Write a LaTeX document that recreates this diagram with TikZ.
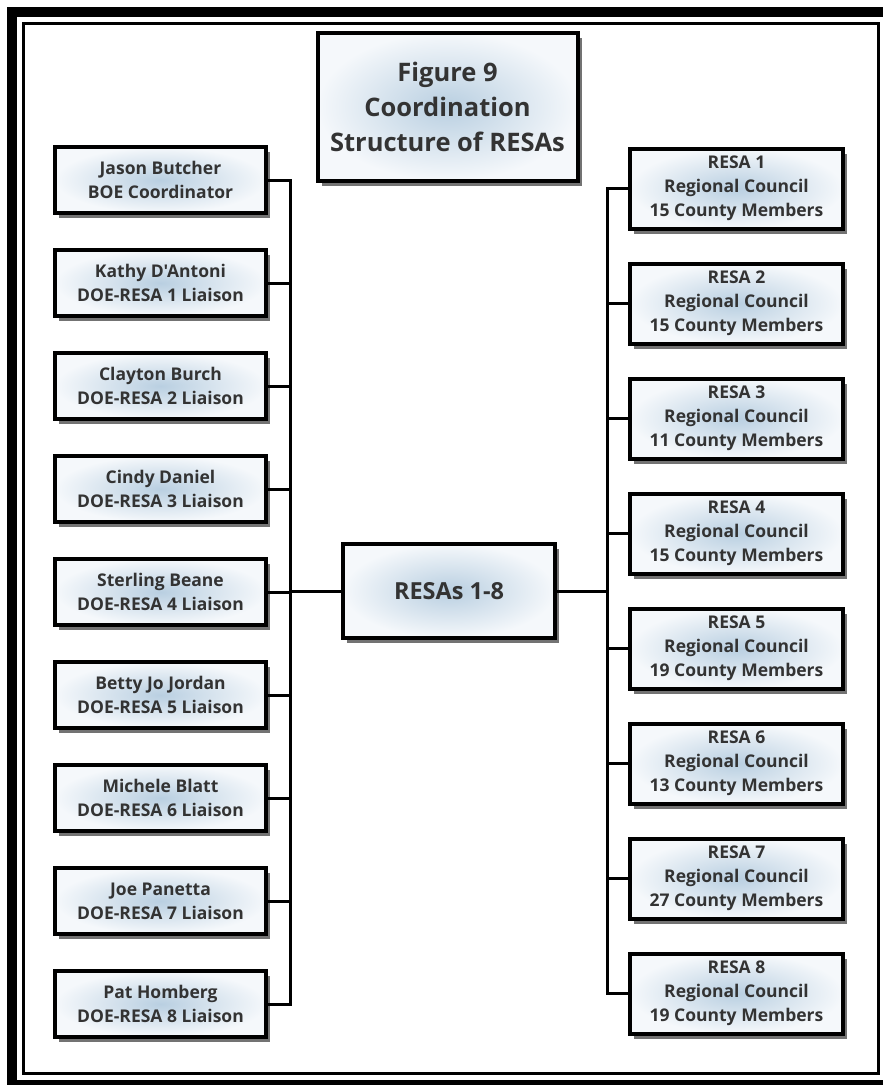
\documentclass[tikz,border=0pt]{standalone}
\usepackage{fontspec}
\setmainfont{Open Sans}[Ligatures=TeXOff]
\usetikzlibrary{shadows}
\definecolor{txt}{HTML}{333333}
\definecolor{inner}{HTML}{B9CFE1}
\definecolor{outer}{HTML}{F5F8FB}
\begin{document}
\begin{tikzpicture}[x=1pt,y=-1pt,
  box/.style={draw=black, line width=4pt, shading=radial, inner color=inner, outer color=outer,
    drop shadow={shadow xshift=4pt, shadow yshift=-5pt, fill=black, opacity=0.55},
    align=center, text=txt, font=\fontsize{17.5}{24}\selectfont\bfseries, inner sep=0pt},
  lbox/.style={box, minimum width=211pt, minimum height=66pt},
  rbox/.style={box, minimum width=213pt, minimum height=80pt},
  conn/.style={line width=3pt, line cap=rect}]
\useasboundingbox (0,0) rectangle (883,1085);
% frame
\draw[line width=10pt] (12,12) rectangle (891,1085);
\draw[line width=3pt] (23,23) rectangle (878,1073.5);
% title
\node[box, minimum width=260pt, minimum height=148pt, font=\fontsize{25.5}{35}\selectfont\bfseries] (title) at (447.5,106.5) {Figure 9\\Coordination\\Structure of RESAs};
% center
\node[box, minimum width=212pt, minimum height=94pt, font=\fontsize{23.5}{28}\selectfont\bfseries] (C) at (449,591) {RESAs 1-8};
% left boxes
\node[lbox] (L1) at (160.5,180) {Jason Butcher\\BOE Coordinator};
\node[lbox] (L2) at (160.5,283) {Kathy D'Antoni\\DOE-RESA 1 Liaison};
\node[lbox] (L3) at (160.5,386) {Clayton Burch\\DOE-RESA 2 Liaison};
\node[lbox] (L4) at (160.5,489) {Cindy Daniel\\DOE-RESA 3 Liaison};
\node[lbox] (L5) at (160.5,592) {Sterling Beane\\DOE-RESA 4 Liaison};
\node[lbox] (L6) at (160.5,695) {Betty Jo Jordan\\DOE-RESA 5 Liaison};
\node[lbox] (L7) at (160.5,798) {Michele Blatt\\DOE-RESA 6 Liaison};
\node[lbox] (L8) at (160.5,901) {Joe Panetta\\DOE-RESA 7 Liaison};
\node[lbox] (L9) at (160.5,1004) {Pat Homberg\\DOE-RESA 8 Liaison};
% right boxes
\node[rbox] (R1) at (736.5,188.5) {RESA 1\\Regional Council\\15 County Members};
\node[rbox] (R2) at (736.5,303.5) {RESA 2\\Regional Council\\15 County Members};
\node[rbox] (R3) at (736.5,418.5) {RESA 3\\Regional Council\\11 County Members};
\node[rbox] (R4) at (736.5,533.5) {RESA 4\\Regional Council\\15 County Members};
\node[rbox] (R5) at (736.5,648.5) {RESA 5\\Regional Council\\19 County Members};
\node[rbox] (R6) at (736.5,763.5) {RESA 6\\Regional Council\\13 County Members};
\node[rbox] (R7) at (736.5,878.5) {RESA 7\\Regional Council\\27 County Members};
\node[rbox] (R8) at (736.5,993.5) {RESA 8\\Regional Council\\19 County Members};
% buses
\coordinate (lt) at (290,180);
\coordinate (lb) at (290,1004);
\coordinate (rt) at (607,188.5);
\coordinate (rb) at (607,993.5);
\begin{scope}[on background layer/.try]
\draw[conn] (lt) -- (lb);
\draw[conn] (rt) -- (rb);
\foreach \n in {L1,L2,L3,L4,L5,L6,L7,L8,L9} \draw[conn] (\n.east) -- (\n.east -| lt);
\foreach \n in {R1,R2,R3,R4,R5,R6,R7,R8} \draw[conn] (\n.west) -- (\n.west -| rt);
\draw[conn] (C.west) -- (C.west -| lt);
\draw[conn] (C.east) -- (C.east -| rt);
\end{scope}
\end{tikzpicture}
\end{document}
